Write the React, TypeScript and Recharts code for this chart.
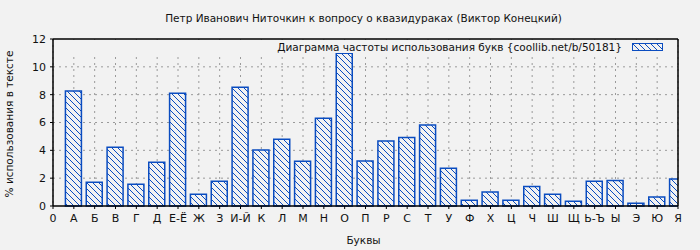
import { BarChart, Bar, XAxis, YAxis, CartesianGrid, ReferenceLine, Legend } from 'recharts'

const letters = ['А', 'Б', 'В', 'Г', 'Д', 'Е-Ё', 'Ж', 'З', 'И-Й', 'К', 'Л', 'М', 'Н', 'О', 'П', 'Р', 'С', 'Т', 'У', 'Ф', 'Х', 'Ц', 'Ч', 'Ш', 'Щ', 'Ь-Ъ', 'Ы', 'Э', 'Ю', 'Я']
const values = [8.26, 1.7, 4.22, 1.56, 3.14, 8.1, 0.84, 1.77, 8.53, 4.02, 4.79, 3.21, 6.3, 10.97, 3.23, 4.67, 4.93, 5.82, 2.71, 0.41, 1.01, 0.41, 1.41, 0.84, 0.34, 1.77, 1.84, 0.19, 0.65, 1.94]
const tickLabels = ['0', ...letters]
const yTicks = [0, 2, 4, 6, 8, 10, 12]

const title = 'Петр Иванович Ниточкин к вопросу о квазидураках (Виктор Конецкий)'
const legendText = 'Диаграмма частоты использования букв {coollib.net/b/50181}'

const BG = '#f2f2f2'
const BLUE = '#0a4cc0'
const FONT = '"DejaVu Sans", sans-serif'

const data = values.map((v, i) => ({ pos: i + 1, letter: letters[i], value: v }))

function Hatch({ id }: { id: string }) {
  return (
    <pattern id={id} patternUnits="userSpaceOnUse" width={6} height={6}>
      <rect width={6} height={6} fill={BG} />
      <path d="M-1,-1 L7,7 M-1,5 L1,7 M5,-1 L7,1" stroke={BLUE} strokeWidth={1} />
    </pattern>
  )
}

function LegendBox() {
  return (
    <div style={{ display: 'flex', justifyContent: 'flex-end', alignItems: 'center', height: 13, fontFamily: FONT, fontSize: 10.5, color: '#111' }}>
      <span>{legendText}</span>
      <svg width={31} height={8} style={{ marginLeft: 10, marginRight: 14 }}>
        <defs>
          <Hatch id="hatchLegend" />
        </defs>
        <rect x={0.5} y={0.5} width={30} height={7} fill="url(#hatchLegend)" stroke={BLUE} strokeWidth={1} />
      </svg>
    </div>
  )
}

export default function App() {
  return (
    <div style={{ position: 'absolute', left: 0, top: 0, width: 700, height: 250, background: BG, fontFamily: FONT }}>
      <div style={{ position: 'absolute', top: 12, left: 0, width: 727, textAlign: 'center', fontSize: 10.5, color: '#111' }}>{title}</div>
      <div style={{ position: 'absolute', left: 0, top: 0, width: 700, height: 250 }}>
        <BarChart width={700} height={250} data={data} margin={{ top: 39, right: 22, bottom: 0, left: 0 }}>
          <defs>
            <Hatch id="hatchBar" />
          </defs>
          <CartesianGrid stroke="#9a9a9a" strokeDasharray="2 4" horizontalValues={[2, 4, 6, 8, 10]} />
          <XAxis
            dataKey="pos"
            type="number"
            domain={[0, 30]}
            ticks={tickLabels.map((_, i) => i)}
            tickFormatter={(v: number) => tickLabels[v]}
            interval={0}
            allowDataOverflow
            height={44}
            tickSize={3}
            tickMargin={5}
            axisLine={{ stroke: '#000', strokeWidth: 1.5 }}
            tickLine={{ stroke: '#000' }}
            tick={{ fontSize: 11, fill: '#111', fontFamily: FONT }}
          />
          <YAxis
            type="number"
            domain={[0, 12]}
            ticks={yTicks}
            width={53}
            tickSize={3}
            tickMargin={4}
            axisLine={{ stroke: '#000', strokeWidth: 1.5 }}
            tickLine={{ stroke: '#000' }}
            tick={{ fontSize: 11, fill: '#111', fontFamily: FONT }}
          />
          <ReferenceLine y={12} stroke="#000" strokeWidth={1.5} />
          <ReferenceLine x={30} stroke="#000" strokeWidth={1.5} />
          <Legend
            content={<LegendBox />}
            layout="horizontal"
            verticalAlign="middle"
            wrapperStyle={{ position: 'absolute', top: 40, left: 54, width: 623, height: 13, background: BG }}
          />
          <Bar dataKey="value" barSize={16} fill="url(#hatchBar)" stroke={BLUE} strokeWidth={1.5} isAnimationActive={false} />
        </BarChart>
      </div>
      <div style={{ position: 'absolute', top: 234, left: 0, width: 727, textAlign: 'center', fontSize: 10.5, color: '#111' }}>Буквы</div>
      <div
        style={{
          position: 'absolute',
          left: 9,
          top: 124,
          fontSize: 10.5,
          color: '#111',
          whiteSpace: 'nowrap',
          transform: 'translate(-50%, -50%) rotate(-90deg)',
        }}
      >
        % использования в тексте
      </div>
    </div>
  )
}
